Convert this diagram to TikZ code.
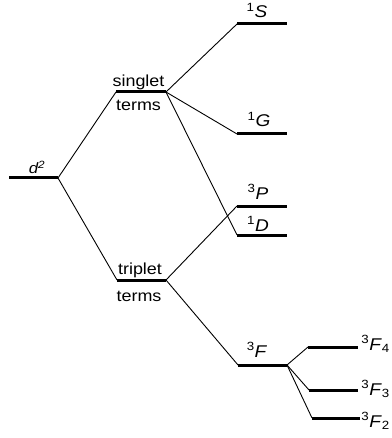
\documentclass[tikz,border=0pt]{standalone}
\usepackage{fontspec}
\setmainfont{Liberation Sans}[FakeStretch=1.12]
\begin{document}
\begin{tikzpicture}[x=1pt,y=-1pt,
  level/.style={line width=3pt},
  conn/.style={line width=0.9pt},
  lab/.style={font=\fontsize{16}{18}\selectfont, inner sep=0pt},
  term/.style={font=\fontsize{17}{19}\selectfont, inner sep=0pt},
  small/.style={font=\fontsize{15}{17}\selectfont, inner sep=0pt}]
\useasboundingbox (0,0) rectangle (391,438);
% level end points
\coordinate (dL) at (9,178);   \coordinate (dR) at (58,178);
\coordinate (sL) at (116,92);  \coordinate (sR) at (166,92);
\coordinate (tL) at (117,280); \coordinate (tR) at (166,280);
\coordinate (SL) at (237,24);  \coordinate (SR) at (287,24);
\coordinate (GL) at (237,134); \coordinate (GR) at (287,134);
\coordinate (PL) at (237,206); \coordinate (PR) at (287,206);
\coordinate (DL) at (237,235); \coordinate (DR) at (287,235);
\coordinate (FL) at (238,365); \coordinate (FR) at (287,365);
\coordinate (F4L) at (308,347); \coordinate (F4R) at (358,347);
\coordinate (F3L) at (309,390); \coordinate (F3R) at (358,390);
\coordinate (F2L) at (312,418); \coordinate (F2R) at (360,418);
% levels
\foreach \a in {d,s,t,S,G,P,D,F,F4,F3,F2}
  \draw[level] (\a L) -- (\a R);
% connectors
\draw[conn] (dR) -- (sL);
\draw[conn] (dR) -- (tL);
\draw[conn] (sR) -- (SL);
\draw[conn] (sR) -- (GL);
\draw[conn] (sR) -- (DL);
\draw[conn] (tR) -- (PL);
\draw[conn] (tR) -- (FL);
\draw[conn] (FR) -- (F4L);
\draw[conn] (FR) -- (F3L);
\draw[conn] (FR) -- (F2L);
% labels
\node[small, anchor=base] (ld) at (37,174) {\itshape d\textsuperscript{2}};
\node[lab, anchor=base] (ls1) at (138.5,87) {singlet};
\node[lab, anchor=base] (ls2) at (138.5,111) {terms};
\node[lab, anchor=base] (lt1) at (140,274) {triplet};
\node[lab, anchor=base] (lt2) at (139,301) {terms};
\node[term, anchor=base] (lS) at (257,18) {\textsuperscript{1}\textit{S}};
\node[term, anchor=base] (lG) at (259,127) {\textsuperscript{1}\textit{G}};
\node[term, anchor=base] (lP) at (258,199) {\textsuperscript{3}\textit{P}};
\node[term, anchor=base] (lD) at (258,231) {\textsuperscript{1}\textit{D}};
\node[term, anchor=base] (lF) at (257,357) {\textsuperscript{3}\textit{F}};
\node[term, anchor=base east] (lF4) at (390,350) {\textsuperscript{3}\textit{F}\textsubscript{4}};
\node[term, anchor=base east] (lF3) at (390,395) {\textsuperscript{3}\textit{F}\textsubscript{3}};
\node[term, anchor=base east] (lF2) at (390,427) {\textsuperscript{3}\textit{F}\textsubscript{2}};
\end{tikzpicture}
\end{document}
